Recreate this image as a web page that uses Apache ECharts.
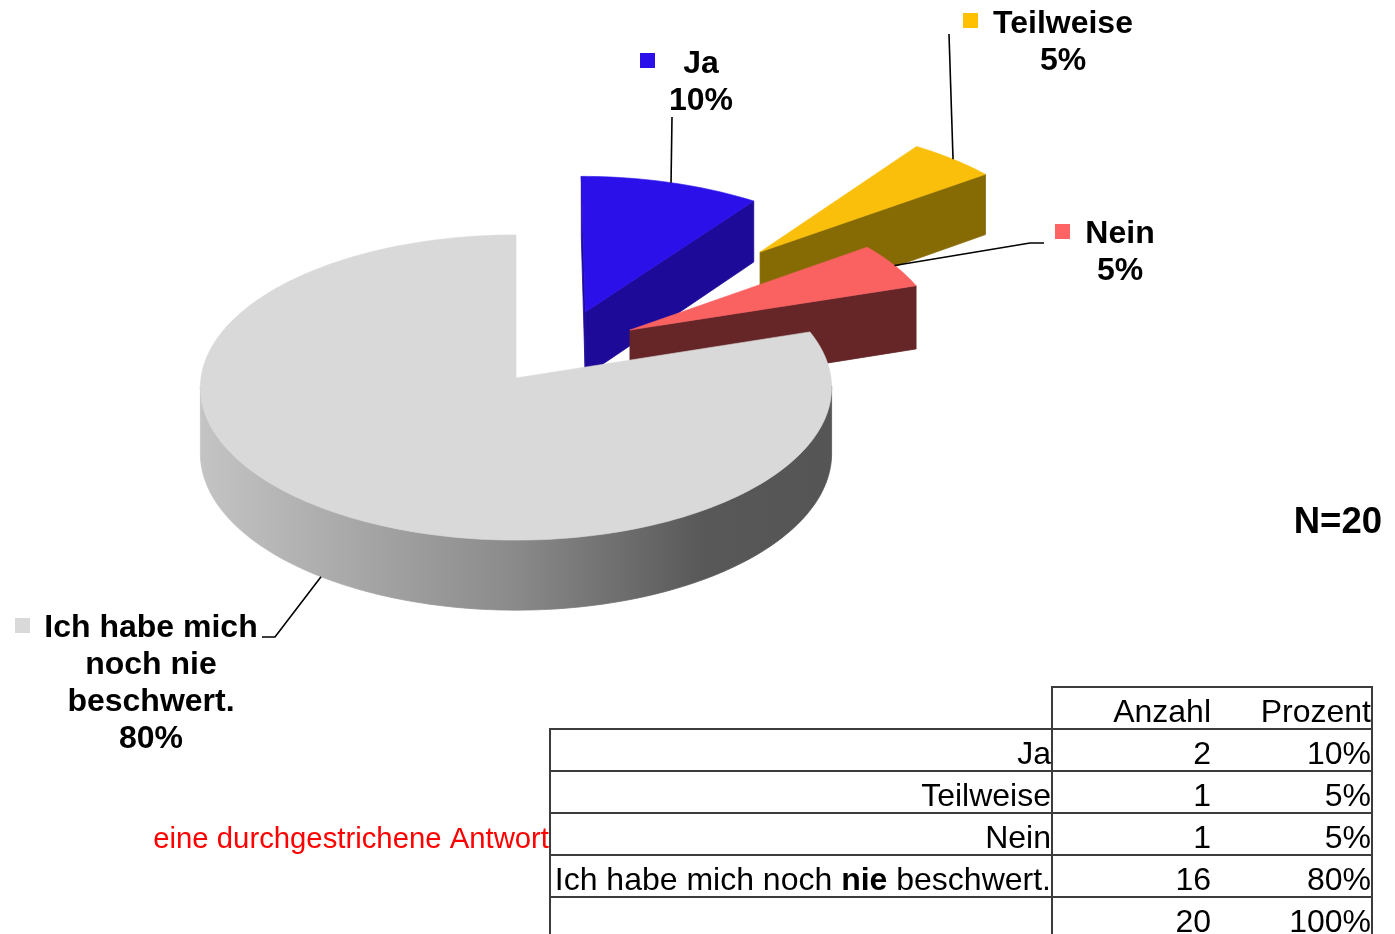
<!DOCTYPE html>
<html><head><meta charset="utf-8">
<script src="https://cdn.jsdelivr.net/npm/echarts@6/dist/echarts.min.js"></script>
<style>html,body{margin:0;padding:0;background:#fff}#c{width:1395px;height:934px}</style>
</head><body><div id="c"></div>
<script>
// ---------- data ----------
const categories = ['Ja', 'Teilweise', 'Nein', 'Ich habe mich noch nie beschwert.'];
const counts = [2, 1, 1, 16];
const labelLines = [['Ja'], ['Teilweise'], ['Nein'], ['Ich habe mich', 'noch nie', 'beschwert.']];
const tableHeaders = ['Anzahl', 'Prozent'];
const sampleText = 'N=20';
const noteText = 'eine durchgestrichene Antwort';

// ---------- style / layout ----------
const FONT = "'Liberation Sans', Arial, sans-serif";
const topColors = ['#2B10EA', '#F9BF0A', '#FA6161', '#D9D9D9'];
const sideColors = ['#1E0A99', '#866A04', '#662628', '#8A8A8A'];
const markerColors = ['#2B10EA', '#FFC000', '#FF6464', '#D9D9D9'];
const explode = [[0.226, 0.446], [0.817, 0.874], [0.369, 0.322], [0, 0]];
const PIE = { cx: 516, cy: 378, rx: 315, ry: 152, persp: 0.0623, depth: 65.7 };
const labelLayout = [
  { cx: 701, cy: 82.5, marker: [640, 53], line: [[672, 117]] },
  { cx: 1063, cy: 42.5, marker: [963, 13], line: [[949, 34]] },
  { cx: 1120, cy: 252.5, marker: [1055, 224], line: [[1030, 243], [1044, 243]] },
  { cx: 151, cy: 683.5, marker: [15, 618], line: [[275, 637], [262, 637]] }
];
const TABLE = { xL: 550, xM: 1052, xR: 1372, colA: 1211, colP: 1370, top: 687, row0: 729, rowH: 42, bottom: 934 };

// ---------- derived ----------
const total = counts.reduce((a, b) => a + b, 0);
const percents = counts.map(c => Math.round(c / total * 100));
const startAngles = [];
{ let acc = 0; counts.forEach(c => { startAngles.push(acc / total * 360); acc += c; }); }
const rank = counts.map((c, i) => i).sort((a, b) => explode[b][1] - explode[a][1]);
const depthRank = counts.map((c, i) => rank.indexOf(i));

function proj(X, Z, drop) {
  const g = 1 / (1 + PIE.persp * Z);
  return [PIE.cx + PIE.rx * X * g, PIE.cy - PIE.ry * Z * g + drop * g];
}
function area(p) {
  let s = 0;
  for (let i = 0; i < p.length; i++) { const a = p[i], b = p[(i + 1) % p.length]; s += a[0] * b[1] - b[0] * a[1]; }
  return s / 2;
}
const rad = d => d * Math.PI / 180;

function renderItem(params, api) {
  const i = params.dataIndex;
  const value = api.value(0);
  const a0 = startAngles[i];
  const a1 = a0 + value / total * 360;
  const [ex, ez] = explode[i];
  const D = PIE.depth;
  const rim = (t, d) => proj(Math.sin(rad(t)) + ex, Math.cos(rad(t)) + ez, d);
  const apex = d => proj(ex, ez, d);
  const base = depthRank[i] * 10;
  const children = [];
  const isGray = i === 3;
  const sideFill = isGray
    ? new echarts.graphic.LinearGradient(200, 0, 830, 0, [
        { offset: 0, color: '#C4C4C4' }, { offset: 0.12, color: '#B6B6B6' },
        { offset: 0.5, color: '#8A8A8A' }, { offset: 0.8, color: '#585858' }, { offset: 1, color: '#555555' }], true)
    : sideColors[i];

  // radial walls
  const startWall = [apex(0), rim(a0, 0), rim(a0, D), apex(D)];
  const endWall = [rim(a1, 0), apex(0), apex(D), rim(a1, D)];
  [startWall, endWall].forEach(w => {
    if (area(w) < -1) children.push({ type: 'polygon', z2: base + 1, shape: { points: w },
      style: { fill: sideColors[i], stroke: sideColors[i], lineWidth: 0.8 } });
  });
  // outer wall, front-facing runs
  const n = Math.max(4, Math.ceil((a1 - a0) / 1.5));
  let run = [];
  const flush = () => {
    if (run.length) {
      const tops = run.map(t => rim(t, 0));
      const bots = run.map(t => rim(t, D)).reverse();
      children.push({ type: 'polygon', z2: base + 1, shape: { points: tops.concat(bots) },
        style: { fill: sideFill, stroke: sideFill, lineWidth: 0.8 } });
    }
    run = [];
  };
  for (let j = 0; j < n; j++) {
    const t1 = a0 + (a1 - a0) * j / n, t2 = a0 + (a1 - a0) * (j + 1) / n;
    const q = [rim(t1, 0), rim(t2, 0), rim(t2, D), rim(t1, D)];
    if (area(q) < 0) { if (!run.length) run.push(t1); run.push(t2); }
    else flush();
  }
  flush();
  // top face
  const topPts = [apex(0)];
  for (let j = 0; j <= n; j++) topPts.push(rim(a0 + (a1 - a0) * j / n, 0));
  children.push({ type: 'polygon', z2: base + 2, shape: { points: topPts },
    style: { fill: topColors[i], stroke: topColors[i], lineWidth: 0.6 } });

  // leader line + label
  const mid = (a0 + a1) / 2;
  const anchor = Math.cos(rad(mid)) < 0 ? rim(mid, D) : rim(mid, 0);
  const L = labelLayout[i];
  children.push({ type: 'polyline', z2: 200, shape: { points: [anchor].concat(L.line) },
    style: { stroke: '#000', lineWidth: 1.6, fill: null } });
  children.push({ type: 'rect', z2: 200, shape: { x: L.marker[0], y: L.marker[1], width: 15, height: 15 },
    style: { fill: markerColors[i] } });
  children.push({ type: 'text', z2: 200, x: L.cx, y: L.cy,
    style: { text: labelLines[i].join('\n') + '\n' + percents[i] + '%', font: 'bold 32px ' + FONT,
      fill: '#000', align: 'center', verticalAlign: 'middle', lineHeight: 37 } });
  return { type: 'group', children };
}

// ---------- table ----------
const graphics = [];
const T = TABLE;
const lineStyle = { stroke: '#3C3C3C', lineWidth: 2 };
const hLine = (x1, x2, y) => graphics.push({ type: 'line', shape: { x1, y1: y, x2, y2: y }, style: lineStyle });
const vLine = (x, y1, y2) => graphics.push({ type: 'line', shape: { x1: x, y1, x2: x, y2 }, style: lineStyle });
hLine(T.xM - 1, T.xR + 1, T.top);
for (let r = 0; r <= counts.length; r++) hLine(T.xL - 1, T.xR + 1, T.row0 + r * T.rowH);
vLine(T.xM, T.top, T.bottom);
vLine(T.xR, T.top, T.bottom);
vLine(T.xL, T.row0, T.bottom);
const tText = (text, x, y, extra) => graphics.push({ type: 'text', x, y,
  style: Object.assign({ text, font: '32px ' + FONT, fill: '#000', align: 'right', verticalAlign: 'middle' }, extra || {}) });
tText(tableHeaders[0], T.colA, T.top + 26);
tText(tableHeaders[1], T.colP + 1, T.top + 26);
categories.forEach((c, r) => {
  const y = T.row0 + r * T.rowH + 26;
  const rich = c.replace(' nie ', ' {b|nie} ');
  tText(rich, T.xM - 1, y, { rich: { b: { font: 'bold 32px ' + FONT, fill: '#000' } } });
  tText(String(counts[r]), T.colA, y);
  tText(percents[r] + '%', T.colP + 1, y);
});
const yTot = T.row0 + counts.length * T.rowH + 26;
tText(String(total), T.colA, yTot);
tText(percents.reduce((a, b) => a + b, 0) + '%', T.colP + 1, yTot);
graphics.push({ type: 'text', x: 549, y: 840, style: { text: noteText, font: '29.3px ' + FONT, fill: '#FF0000', align: 'right', verticalAlign: 'middle' } });
graphics.push({ type: 'text', x: 1382, y: 523, style: { text: sampleText, font: 'bold 36.5px ' + FONT, fill: '#000', align: 'right', verticalAlign: 'middle' } });

const chart = echarts.init(document.getElementById('c'), null, { renderer: 'canvas' });
chart.setOption({
  animation: false,
  backgroundColor: '#fff',
  graphic: graphics,
  series: [{
    type: 'custom', coordinateSystem: 'none', renderItem,
    data: counts.map((v, i) => ({ name: categories[i], value: [v, i] }))
  }]
});
</script>
</body></html>
